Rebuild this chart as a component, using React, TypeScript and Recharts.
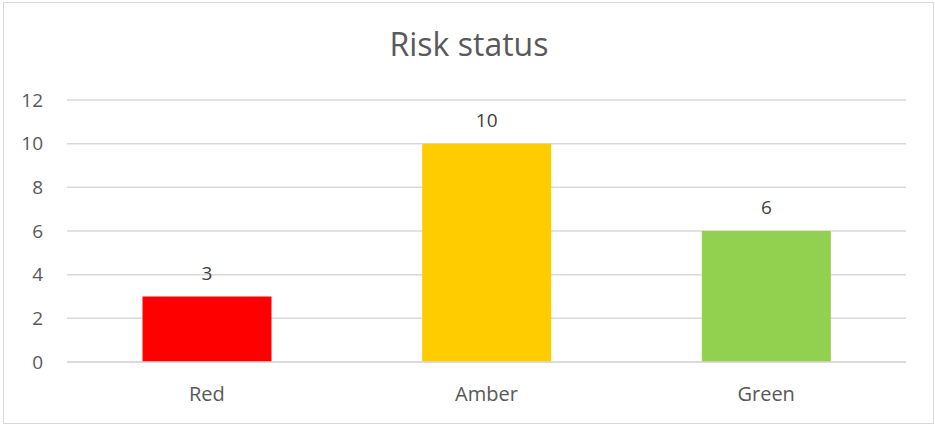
import { BarChart, Bar, XAxis, YAxis, CartesianGrid, Cell, LabelList } from "recharts";

const categories = ["Red", "Amber", "Green"];
const riskCounts = [3, 10, 6];
const barColors = ["#FF0000", "#FFCC00", "#92D050"];
const yTicks = [0, 2, 4, 6, 8, 10, 12];

const chartData = categories.map((name, i) => ({ name, count: riskCounts[i] }));

const FONT = "'Open Sans', sans-serif";

export default function App() {
  return (
    <div style={{ position: "absolute", left: 0, top: 0, width: 935, height: 425, background: "#fff" }}>
      <div
        style={{
          position: "absolute",
          left: 3,
          top: 2,
          width: 929,
          height: 420,
          border: "1px solid #d9d9d9",
        }}
      />
      <div
        style={{
          position: "absolute",
          left: 0,
          top: 22,
          width: 938,
          textAlign: "center",
          fontFamily: FONT,
          fontSize: 32,
          color: "#595959",
          lineHeight: "44px",
        }}
      >
        Risk status
      </div>
      <div style={{ position: "absolute", left: 0, top: 0 }}>
        <BarChart
          width={935}
          height={425}
          data={chartData}
          margin={{ top: 100, right: 29, left: 10, bottom: 23 }}
          barCategoryGap="27%"
        >
          <CartesianGrid vertical={false} stroke="#d9d9d9" strokeWidth={1.5} />
          <XAxis
            dataKey="name"
            axisLine={{ stroke: "#d9d9d9", strokeWidth: 1.5 }}
            tickLine={false}
            tickSize={0}
            tickMargin={25}
            height={40}
            tick={{ fontSize: 20, fill: "#595959", fontFamily: FONT }}
          />
          <YAxis
            width={57}
            domain={[0, 12]}
            ticks={yTicks}
            axisLine={false}
            tickLine={false}
            tickSize={0}
            tickMargin={24}
            tick={{ fontSize: 19, fill: "#595959", fontFamily: FONT }}
          />
          <Bar dataKey="count" isAnimationActive={false}>
            {chartData.map((entry, index) => (
              <Cell key={`cell-${entry.name}`} fill={barColors[index]} />
            ))}
            <LabelList
              dataKey="count"
              position="top"
              offset={17}
              fill="#404040"
              fontSize={19}
              fontFamily={FONT}
            />
          </Bar>
        </BarChart>
      </div>
    </div>
  );
}
